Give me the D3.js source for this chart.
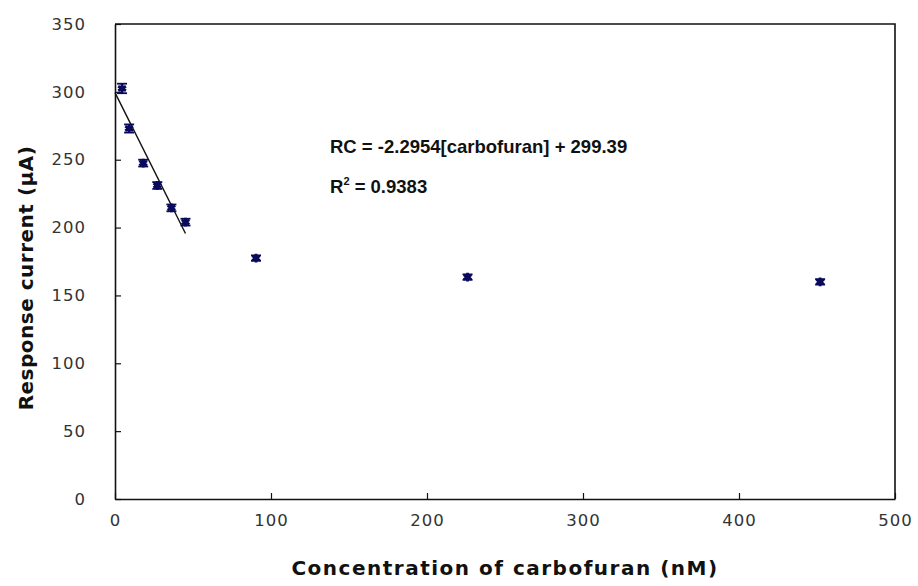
<!DOCTYPE html>
<html>
<head>
<meta charset="utf-8">
<script src="https://cdn.jsdelivr.net/npm/d3@7"></script>
<style>
  html, body { margin: 0; padding: 0; background: #fff; }
  svg { display: block; }
  svg { font-family: "DejaVu Sans", "Liberation Sans", Arial, sans-serif; }
</style>
</head>
<body>
<svg id="chart" width="918" height="586"></svg>
<script>
// Carbofuran concentration (nM) and measured response current (µA)
const concentration = [4.52, 9.04, 18.08, 27.12, 36.16, 45.2, 90.4, 226, 452];
const responseCurrent = [302.5, 273, 247.5, 231, 214.5, 204, 177.5, 163.5, 160];
const errorBar = [3.5, 3, 2.5, 2.5, 2.5, 2.5, 2, 2, 2];

// Linear fit over the low-concentration range
const fitSlope = -2.2954;
const fitIntercept = 299.39;
const fitRange = [0, 45.2];
const fitLabel = "RC = -2.2954[carbofuran] + 299.39";
const r2Label = "0.9383";

const xTicks = [0, 100, 200, 300, 400, 500];
const yTicks = [0, 50, 100, 150, 200, 250, 300, 350];

const svg = d3.select("#chart");
const m = { left: 115, right: 895, top: 24, bottom: 499 };

const x = d3.scaleLinear().domain([0, 500]).range([m.left, m.right]);
const y = d3.scaleLinear().domain([0, 350]).range([m.bottom, m.top]);

const markColor = "#0a0a5c";

// Axes with inward ticks
const xAxis = svg.append("g")
  .attr("transform", `translate(0,${m.bottom})`)
  .call(d3.axisBottom(x).tickValues(xTicks).tickSizeInner(-6).tickSizeOuter(0).tickPadding(15));
const yAxis = svg.append("g")
  .attr("transform", `translate(${m.left},0)`)
  .call(d3.axisLeft(y).tickValues(yTicks).tickSizeInner(-6).tickSizeOuter(0).tickPadding(29));

[xAxis, yAxis].forEach(g => {
  g.select(".domain").attr("stroke", "#111").attr("stroke-width", 1.6);
  g.selectAll(".tick line").attr("stroke", "#111").attr("stroke-width", 1.2);
  g.selectAll(".tick text")
    .attr("fill", "#333")
    .style("font-family", "'DejaVu Sans', sans-serif")
    .style("font-size", "16.5px")
    .style("letter-spacing", "1px");
});

// Plot frame (top and right edges)
svg.append("path")
  .attr("d", `M${m.left},${m.top}H${m.right}V${m.bottom}`)
  .attr("fill", "none").attr("stroke", "#111").attr("stroke-width", 1.6);

// Trend line from the fitted equation
svg.append("line")
  .attr("x1", x(fitRange[0])).attr("y1", y(fitSlope * fitRange[0] + fitIntercept))
  .attr("x2", x(fitRange[1])).attr("y2", y(fitSlope * fitRange[1] + fitIntercept))
  .attr("stroke", "#111").attr("stroke-width", 1.4);

const pts = concentration.map((c, i) => ({ c, v: responseCurrent[i], e: errorBar[i] }));

// Error bars with caps
const eb = svg.append("g").attr("stroke", markColor).attr("stroke-width", 1.8);
pts.forEach(d => {
  eb.append("line").attr("x1", x(d.c)).attr("x2", x(d.c))
    .attr("y1", y(d.v + d.e)).attr("y2", y(d.v - d.e));
  [d.v + d.e, d.v - d.e].forEach(v => {
    eb.append("line").attr("x1", x(d.c) - 5).attr("x2", x(d.c) + 5)
      .attr("y1", y(v)).attr("y2", y(v));
  });
});

// Star markers
svg.append("g").selectAll("path")
  .data(pts).join("path")
  .attr("transform", d => `translate(${x(d.c)},${y(d.v)})`)
  .attr("d", d3.symbol(d3.symbolAsterisk, 56))
  .attr("fill", "none")
  .attr("stroke", markColor)
  .attr("stroke-width", 2.8);
svg.append("g").selectAll("circle")
  .data(pts).join("circle")
  .attr("cx", d => x(d.c)).attr("cy", d => y(d.v)).attr("r", 3)
  .attr("fill", markColor);

// Equation annotation
const eq = svg.append("g")
  .style("font-family", "'Liberation Sans', Arial, sans-serif")
  .style("font-weight", "bold").style("font-size", "18.5px").attr("fill", "#111");
eq.append("text").attr("x", 330).attr("y", 153).text(fitLabel);
const r2 = eq.append("text").attr("x", 330).attr("y", 193);
r2.append("tspan").text("R");
r2.append("tspan").attr("dy", -8).style("font-size", "11px").text("2");
r2.append("tspan").attr("dy", 8).text(" = " + r2Label);

// Axis titles
svg.append("text")
  .attr("x", x(250)).attr("y", 575)
  .attr("text-anchor", "middle")
  .style("font-weight", "bold").style("font-size", "20px").style("letter-spacing", "1.5px")
  .attr("fill", "#111")
  .text("Concentration of carbofuran (nM)");
svg.append("text")
  .attr("transform", `translate(33,278) rotate(-90)`)
  .attr("text-anchor", "middle")
  .style("font-weight", "bold").style("font-size", "20px").style("letter-spacing", "0.5px")
  .attr("fill", "#111")
  .text("Response current (µA)");
</script>
</body>
</html>
